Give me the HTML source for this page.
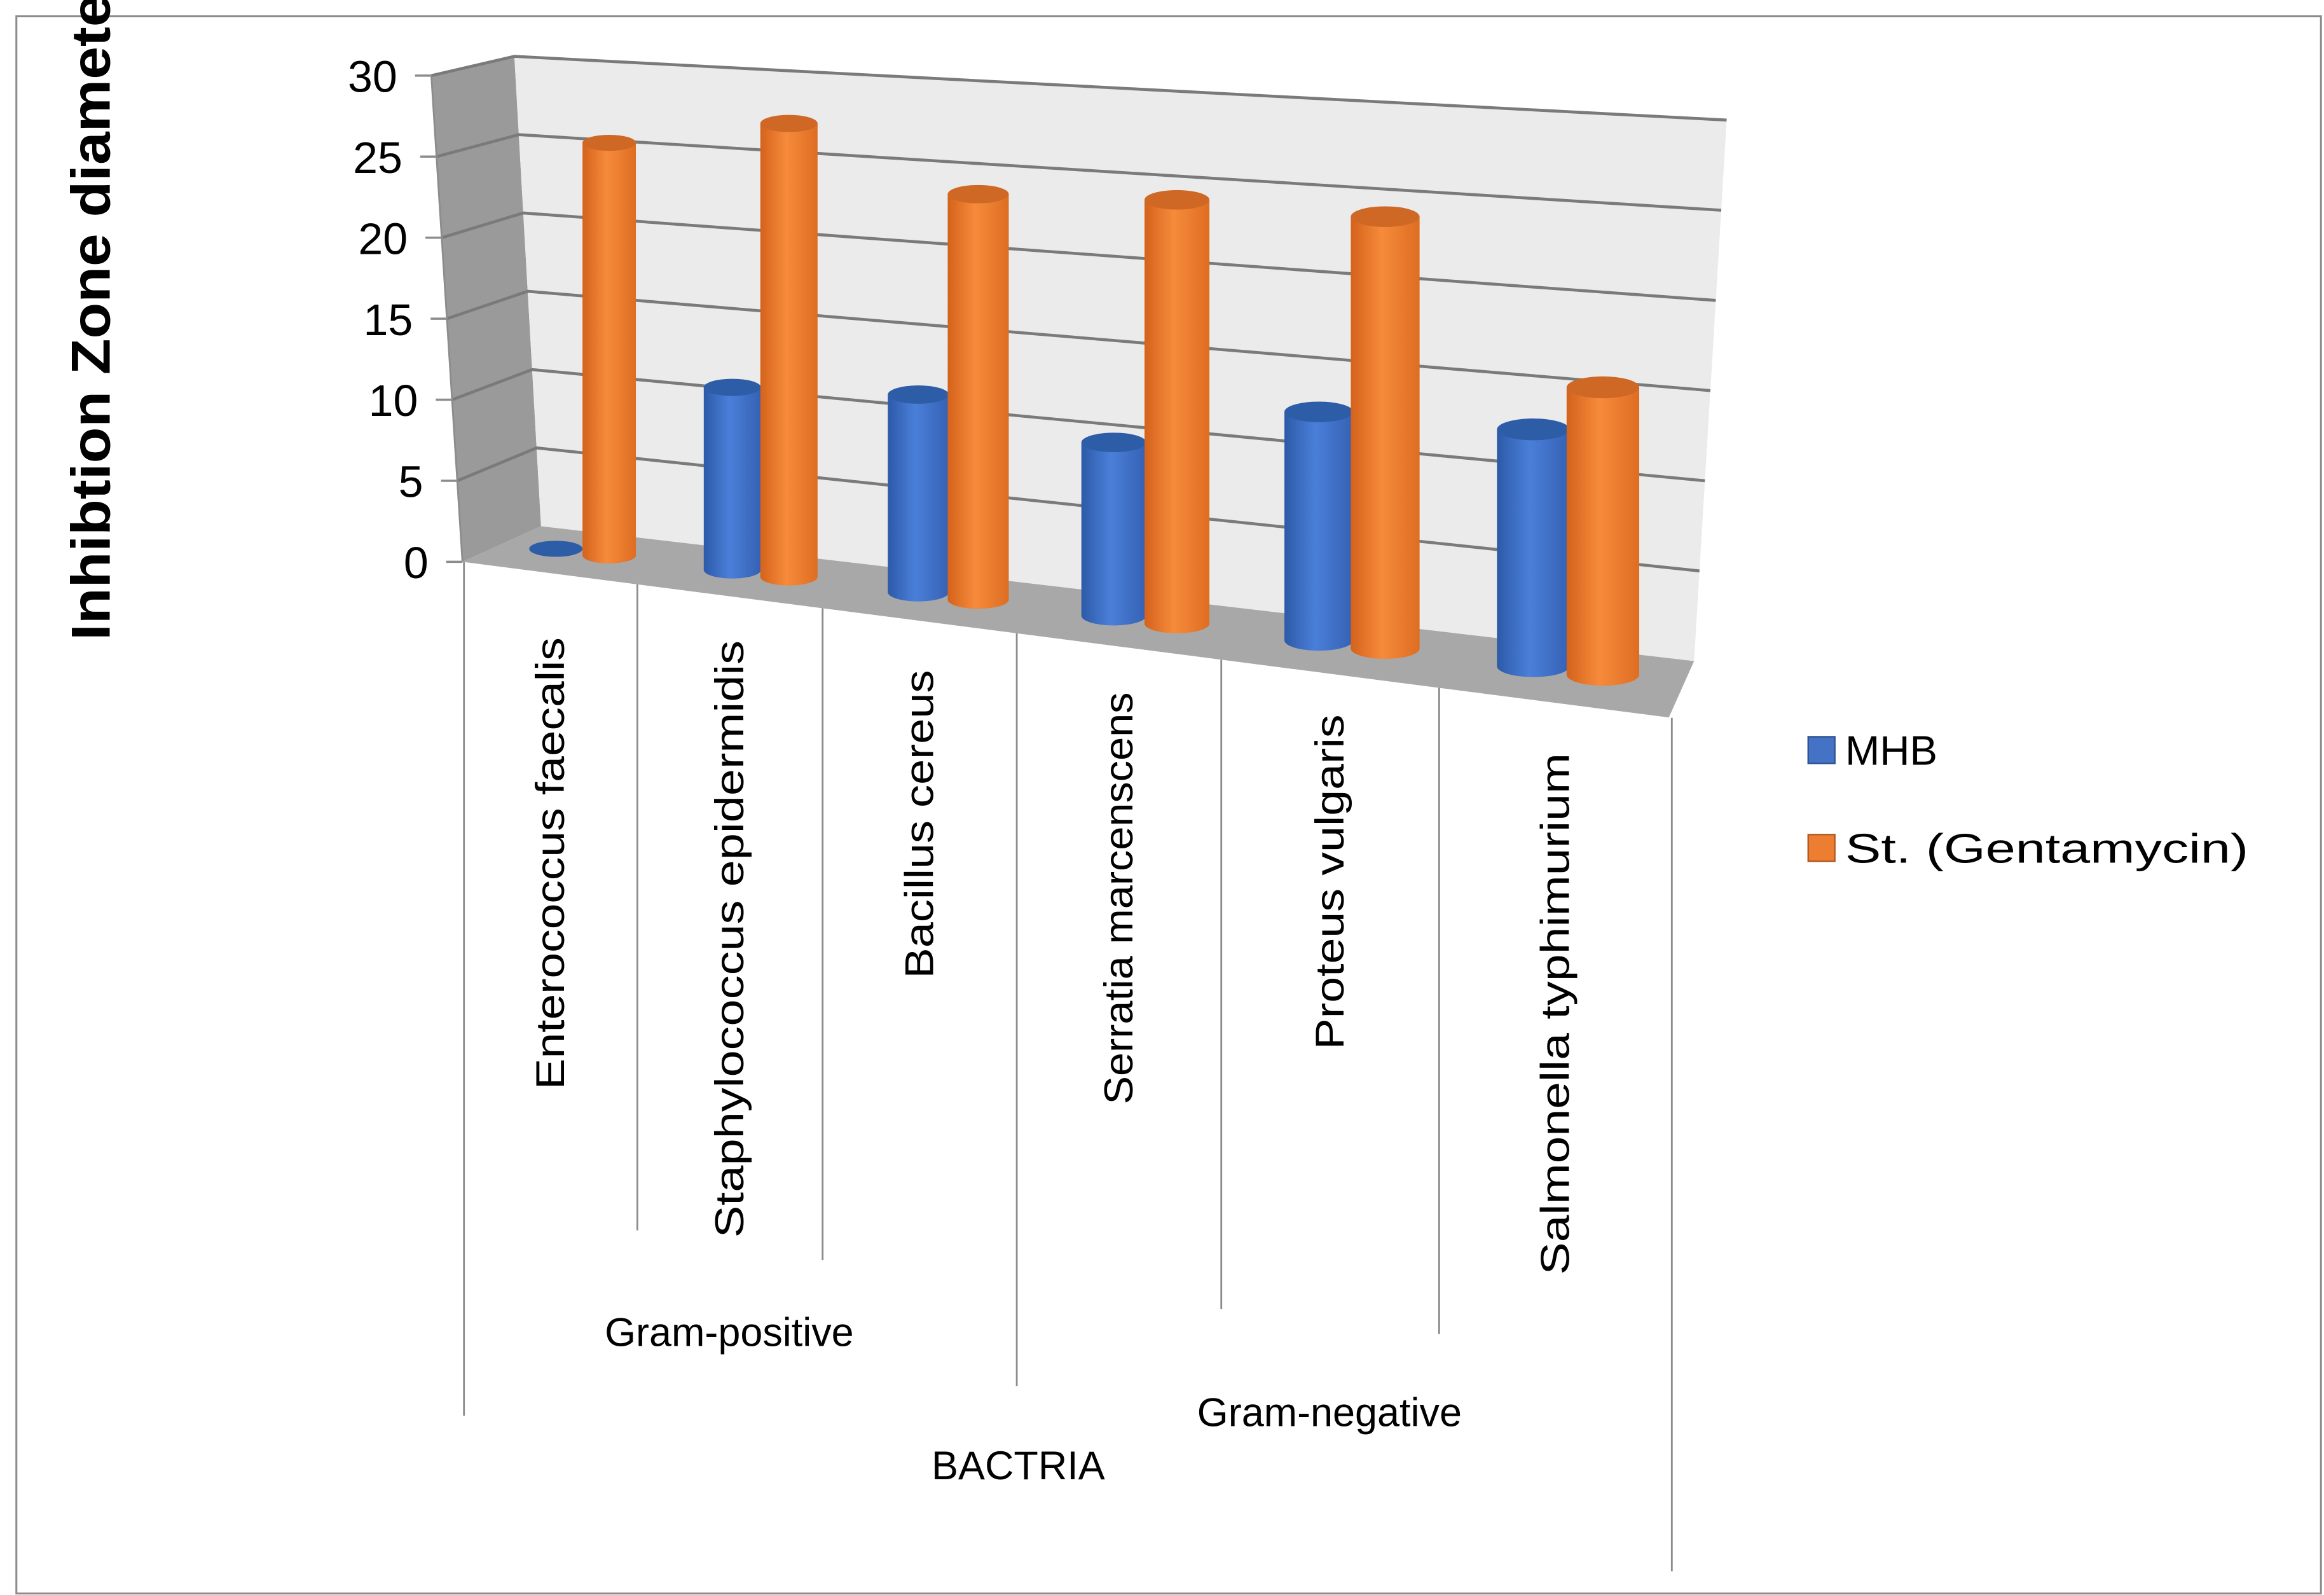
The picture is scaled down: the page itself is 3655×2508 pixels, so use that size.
<!DOCTYPE html>
<html><head><meta charset="utf-8"><style>
html,body{margin:0;padding:0;background:#fff;}
svg{display:block;font-family:"Liberation Sans",sans-serif;}
</style></head><body>
<svg id="chart" width="3655" height="2508" viewBox="0 0 1568 1076" xmlns="http://www.w3.org/2000/svg">
<defs>
<linearGradient id="gb" x1="0" x2="1" y1="0" y2="0"><stop offset="0" stop-color="#2d5aa8"/><stop offset="0.45" stop-color="#4a7fd9"/><stop offset="1" stop-color="#3561b3"/></linearGradient>
<linearGradient id="go" x1="0" x2="1" y1="0" y2="0"><stop offset="0" stop-color="#d4621b"/><stop offset="0.45" stop-color="#f68b3b"/><stop offset="1" stop-color="#de6d22"/></linearGradient>
</defs>
<rect x="11" y="11" width="1555" height="1064" fill="#fff" stroke="#8c8c8c" stroke-width="1.3"/>
<polygon points="291,51 347,38 365,355 312,379" fill="#9a9a9a"/>
<polygon points="347,38 1165,81 1143,446 365,355" fill="#ebebeb"/>
<polygon points="312,379 365,355 1143,446 1126,484" fill="#a8a8a8"/>
<g id="grid"></g>
<g id="yticks"></g>
<g id="bars"></g>
<g id="xaxis"></g>
<text transform="translate(74,432) rotate(-90)" font-size="37" font-weight="bold" textLength="560" lengthAdjust="spacingAndGlyphs">Inhibtion Zone diameter (mm)</text>
<text x="492" y="908" font-size="27" text-anchor="middle">Gram-positive</text>
<text x="897" y="962" font-size="27" text-anchor="middle">Gram-negative</text>
<text x="687" y="998" font-size="27" text-anchor="middle">BACTRIA</text>
<g>
<rect x="1220" y="497" width="18" height="18" fill="#4472c4" stroke="#2f528f" stroke-width="1"/>
<text x="1245" y="516" font-size="28">MHB</text>
<rect x="1220" y="563" width="18" height="18" fill="#ed7d31" stroke="#ae5a21" stroke-width="1"/>
<text x="1245" y="582" font-size="28" textLength="272" lengthAdjust="spacingAndGlyphs">St. (Gentamycin)</text>
</g>
</svg>
<script>
const categories = ["Enterococcus faecalis","Staphylococcus epidermidis","Bacillus cereus","Serratia marcenscens","Proteus vulgaris","Salmonella typhimurium"];
const mhbValues = [0, 11, 11.6, 9.9, 12.7, 12.8];
const gentValues = [25.3, 27.1, 23.6, 24, 23.8, 15.4];
const yTicks = [0, 5, 10, 15, 20, 25, 30];
const NS = "http://www.w3.org/2000/svg";
function mk(tag, attrs, parent){const e=document.createElementNS(NS,tag);for(const k in attrs)e.setAttribute(k,attrs[k]);parent.appendChild(e);return e;}
const YMAX = 30;
function lerp(a,b,t){return a+(b-a)*t;}
function backLeft(v){const t=v/YMAX;return [lerp(365,347,t),lerp(355,38,t)];}
function backRight(v){const t=v/YMAX;return [lerp(1143,1165,t),lerp(446,81,t)];}
function frontLeft(v){const t=v/YMAX;return [lerp(312,291,t),lerp(379,51,t)];}
const grid=document.getElementById('grid'), yt=document.getElementById('yticks');
yTicks.forEach(v=>{
  const f=frontLeft(v), b=backLeft(v), r=backRight(v);
  if(v>0){
    const g=mk('polyline',{points:`${f[0]},${f[1]} ${b[0]},${b[1]} ${r[0]},${r[1]}`,fill:'none',stroke:'#7a7a7a','stroke-width':2},grid);
    
    
  }
  const tk=mk('line',{x1:f[0]-11,y1:f[1],x2:f[0],y2:f[1],stroke:'#8c8c8c','stroke-width':1.5},yt);
  
  
  const tx=mk('text',{x:f[0]-23,y:f[1]+11,'font-size':30,'text-anchor':'end',fill:'#000'},yt);
  tx.textContent=String(v);
  
  
});
mk('line',{x1:291,y1:51,x2:312,y2:379,stroke:'#8c8c8c','stroke-width':1.2},yt);
function catCenter(i){return 393+117*i+3.2*i*i;}
function barWidth(i){return 36+2.6*i;}
function baseY(x){return 329.5+0.123*x;}
function kScale(x){return 11.0+(x-411)*(1.6/675);}
const bars=document.getElementById('bars');
function cylinder(i,val,side,grad,top,name){
  const w=barWidth(i), off=(18+1.1*i)*side, cx=catCenter(i)+off;
  const ry=w*0.15, yb=baseY(cx)-ry, h=val*kScale(cx), yt2=yb-h;
  const g=mk('g',{},bars);
  
  
  if(val<=0){mk('ellipse',{cx:cx,cy:yb,rx:w/2,ry:ry,fill:top},g);return;}
  mk('ellipse',{cx:cx,cy:yb,rx:w/2,ry:ry,fill:`url(#${grad})`},g);
  mk('rect',{x:cx-w/2,y:yt2,width:w,height:h,fill:`url(#${grad})`},g);
  mk('ellipse',{cx:cx,cy:yt2,rx:w/2,ry:ry,fill:top},g);
}
categories.forEach((c,i)=>{
  cylinder(i,mhbValues[i],-1,'gb','#2e5da8','bar-mhb-'+i);
  cylinder(i,gentValues[i],1,'go','#cf6824','bar-gentamycin-'+i);
});
const xa=document.getElementById('xaxis');
const divX=[313,430,555,686,824,971,1128];
const divBottom=[955,830,850,935,883,900,1060];
function frontEdgeY(x){return 379+(x-312)*(484-379)/(1126-312);}
divX.forEach((x,j)=>{
  const l=mk('line',{x1:x,y1:frontEdgeY(x),x2:x,y2:divBottom[j],stroke:'#8c8c8c','stroke-width':1.2},xa);
  
  
});
const labelLen=[305,403,208,278,226,352];
const labelTop=[430,432,452,467,482,508];
categories.forEach((c,i)=>{
  const cx=(divX[i]+divX[i+1])/2+9;
  const t=mk('text',{transform:`translate(${cx},${labelTop[i]}) rotate(-90)`,'font-size':27,'text-anchor':'end',textLength:labelLen[i],lengthAdjust:'spacingAndGlyphs'},xa);
  t.textContent=c;
  
  
});
</script>
</body></html>
